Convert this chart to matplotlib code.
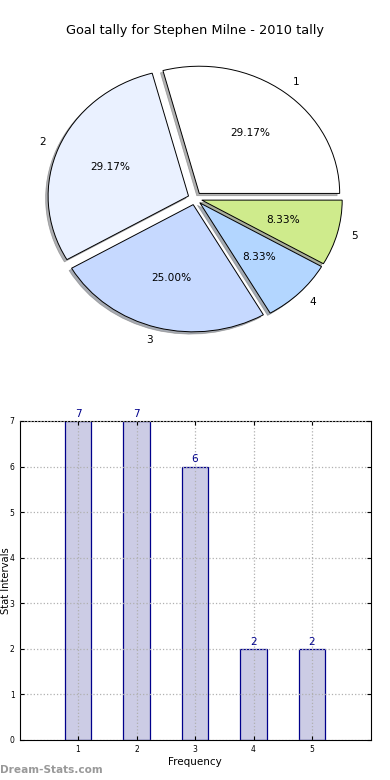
import matplotlib
matplotlib.use("Agg")
import matplotlib.pyplot as plt

title = "Goal tally for Stephen Milne - 2010 tally"
categories = ["1", "2", "3", "4", "5"]
values = [7, 7, 6, 2, 2]
pie_colors = ["#FFFFFF", "#EAF1FF", "#C6D9FF", "#B3D6FF", "#CFEB8C"]
bar_color = "#CCCCE5"
bar_edge = "#00008B"

fig = plt.figure(figsize=(3.9, 7.8), dpi=100)

# Pie
ax1 = fig.add_axes([0.05, 0.5417, 0.9, 0.4077])
wedges, texts, autotexts = ax1.pie(
    values, labels=categories, colors=pie_colors, autopct="%.2f%%",
    explode=[0.05] * len(values),
    shadow=dict(ox=-0.013, oy=-0.013, shade=0.6, edgecolor="#666666", linewidth=0.5),
    startangle=0,
    wedgeprops=dict(edgecolor="black", linewidth=0.7),
    textprops=dict(fontsize=7.6))
ax1.set_aspect("auto")
ax1.set_xlim(-1.25, 1.25)
ax1.set_ylim(-1.25, 1.25)
fig.text(0.5, 0.961, title, ha="center", va="center", fontsize=9.3)

# Bars
ax2 = fig.add_axes([0.05, 0.0513, 0.9, 0.409])
x = list(range(1, len(values) + 1))
bars = ax2.bar(x, values, width=0.45, color=bar_color, edgecolor=bar_edge, linewidth=0.9, zorder=1)
for xi, v in zip(x, values):
    ax2.text(xi, v + 0.05, str(v), ha="center", va="bottom", color="#00008B", fontsize=7.5)
ax2.set_xlim(0, 6)
ax2.set_ylim(0, 7)
ax2.set_xticks(x)
ax2.set_yticks(range(0, 8))
ax2.tick_params(labelsize=5.5, direction="in", top=True, right=True, length=3)
ax2.grid(True, linestyle=":", color="#B0B0B0", linewidth=0.9, zorder=3)
ax2.set_axisbelow(False)
ax2.set_xlabel("Frequency", fontsize=7.5, labelpad=2)
ax2.set_ylabel("Stat Intervals", fontsize=7.2, labelpad=2)
ax2.yaxis.set_label_coords(-0.024, 0.5)

fig.text(0.0, 0.013, "Dream-Stats.com", ha="left", va="center", fontsize=7.6, color="#999999", fontweight="bold")

fig.savefig("out.png", dpi=100)
